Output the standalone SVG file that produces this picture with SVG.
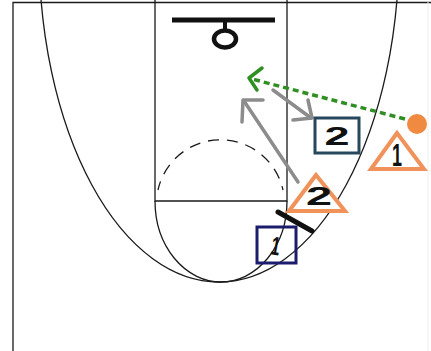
<svg xmlns="http://www.w3.org/2000/svg" width="431" height="351" viewBox="0 0 431 351">
<style>
.court{fill:none;stroke:#1a1a1a;stroke-width:1.3}
.num{font-family:"Liberation Sans",Arial,sans-serif;font-weight:bold;fill:#111;text-anchor:middle}
.tri{fill:#fff;stroke:#f0925a;stroke-width:4;stroke-linejoin:miter}
.gray{fill:none;stroke:#8c8c8c;stroke-width:3.5;stroke-linecap:round;stroke-linejoin:round}
.green{fill:none;stroke:#2f8f22;stroke-width:3.5}
</style>
<rect width="431" height="351" fill="#fff"/>
<g id="court">
  <path class="court" d="M13,351 V2.5 H431" stroke-width="1.6"/>
  <line x1="428" y1="2" x2="428" y2="351" stroke="#eee" stroke-width="1"/>
  <ellipse class="court" cx="219" cy="-50" rx="180" ry="332"/>
  <path class="court" d="M155,0 V201 H287 V0"/>
  <path class="court" d="M155,201 A66,81 0 0 0 287,201"/>
  <path class="court" d="M158,190 A64,64 0 0 1 283,190" stroke-dasharray="11 8" stroke-dashoffset="2"/>
</g>
<g id="hoop">
  <line x1="172" y1="20" x2="275" y2="20" stroke="#111" stroke-width="5"/>
  <line x1="225" y1="20" x2="225" y2="30" stroke="#111" stroke-width="4"/>
  <ellipse cx="225" cy="39" rx="11" ry="8.5" fill="none" stroke="#111" stroke-width="4.5"/>
</g>
<g id="connectors">
  <path class="green" d="M405,119 L252,79" stroke-dasharray="6 4"/>
  <polyline class="green" points="262,68 249,78 257,90" stroke-linecap="round" stroke-linejoin="round"/>
  <line class="gray" x1="298" y1="182" x2="244" y2="101"/>
  <polyline class="gray" points="263,100 243,100 242,122"/>
  <line class="gray" x1="273" y1="90" x2="311" y2="118"/>
  <polyline class="gray" points="293,120 312,118 308,100"/>
</g>
<g id="screen">
  <line x1="278" y1="212" x2="312" y2="231" stroke="#111" stroke-width="5" stroke-linecap="round"/>
</g>
<g id="offense2">
  <rect x="315" y="118" width="44" height="35" fill="none" stroke="#27485c" stroke-width="3"/>
  <text class="num" x="337" y="144.5" font-size="25" textLength="25" lengthAdjust="spacingAndGlyphs">2</text>
</g>
<g id="offense1">
  <rect x="257" y="227" width="39" height="36" fill="none" stroke="#1c1c6c" stroke-width="3"/>
  <text class="num" x="276" y="255" font-size="26" textLength="9" lengthAdjust="spacingAndGlyphs" transform="rotate(10 276 245)">1</text>
</g>
<g id="defense1">
  <polygon class="tri" points="397,133 371,169 424,169"/>
  <text class="num" x="397" y="166" font-size="31" textLength="10" lengthAdjust="spacingAndGlyphs">1</text>
</g>
<g id="defense2">
  <polygon class="tri" points="316,175 289,211 345,211"/>
  <text class="num" x="319" y="205" font-size="25" textLength="26" lengthAdjust="spacingAndGlyphs">2</text>
</g>
<g id="ball">
  <circle cx="417" cy="124" r="10" fill="#f08a40"/>
</g>
</svg>
